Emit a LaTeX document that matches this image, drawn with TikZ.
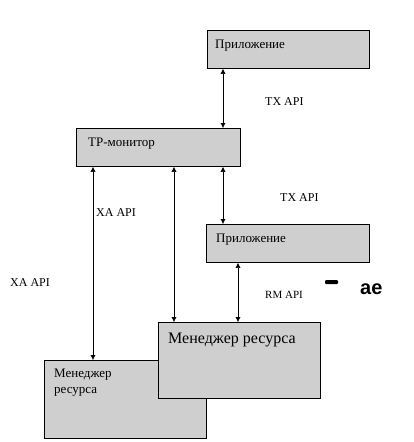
\documentclass[tikz,border=0pt]{standalone}
\usepackage{fontspec}
\setmainfont{Liberation Serif}
\newfontfamily\boldsans{Liberation Sans}
\usetikzlibrary{arrows.meta,positioning,calc}
\tikzset{
    box/.style={
        draw=black, thick, fill=black!19, anchor=north west,
        inner sep=0pt, minimum width=#1
    },
    box/.default=162pt,
    tag/.style={
        inner sep=0pt, anchor=west, text=black,
        font=\fontsize{12}{14}\selectfont
    },
    arrow/.style={
        {Latex[length=5pt,width=5pt]}-{Latex[length=5pt,width=5pt]},
        thin, draw=black
    }
}
\begin{document}
\begin{tikzpicture}[x=1pt,y=-1pt]
\useasboundingbox (0,0) rectangle (414,442);
% boxes
\node[box, minimum height=38pt] (app1) at (207,30) {};
\node[box=164pt, minimum height=38pt] (tp) at (76,128) {};
\node[box=163pt, minimum height=38pt] (app2) at (206,224) {};
\node[box, minimum height=78pt] (rmback) at (44,360) {};
\node[box, minimum height=76pt] (rmfront) at (158,322) {};
% texts in boxes
\node[tag, font=\fontsize{13}{15}\selectfont] (app1txt)
  at ([shift={(8,16)}]app1.north west) {Приложение};
\node[tag, font=\fontsize{13}{15}\selectfont] (tptxt)
  at ([shift={(12,16)}]tp.north west) {TP-монитор};
\node[tag, font=\fontsize{13}{15}\selectfont] (app2txt)
  at ([shift={(10,16)}]app2.north west) {Приложение};
\node[tag, font=\fontsize{16}{18}\selectfont] (rmfronttxt)
  at ([shift={(10,18)}]rmfront.north west) {Менеджер ресурса};
\node[tag, anchor=north west, align=left, font=\fontsize{13}{16}\selectfont]
  (rmbacktxt) at ([shift={(10,9)}]rmback.north west) {Менеджер\\ресурса};
% connectors
\draw[arrow] ([xshift=16pt]app1.south west) -- ([xshift=16pt]app1.south west |- tp.north);
\draw[arrow] ([xshift=17pt]app2.north west |- tp.south) -- ([xshift=17pt]app2.north west);
\draw[arrow] ([xshift=17pt]tp.south west) -- ([xshift=17pt]tp.south west |- rmback.north);
\draw[arrow] ([xshift=16pt]rmfront.north west |- tp.south) -- ([xshift=16pt]rmfront.north west);
\draw[arrow] ([xshift=32pt]app2.south west) -- ([xshift=32pt]app2.south west |- rmfront.north);
% API labels
\node[tag] (tx1) at (265,102) {TX API};
\node[tag] (tx2) at (280,198) {TX API};
\node[tag] (xa1) at (96,213) {XA API};
\node[tag] (xa2) at (10,283) {XA API};
\node[tag, font=\fontsize{11}{13}\selectfont] (rm) at (265,295) {RM API};
% cut-off fragment
\fill[black, rounded corners=1pt] (325,280) rectangle (338,284);
\node[tag, font=\boldsans\bfseries\fontsize{20}{22}\selectfont] (frag) at (360,289) {ае};
\end{tikzpicture}
\end{document}
